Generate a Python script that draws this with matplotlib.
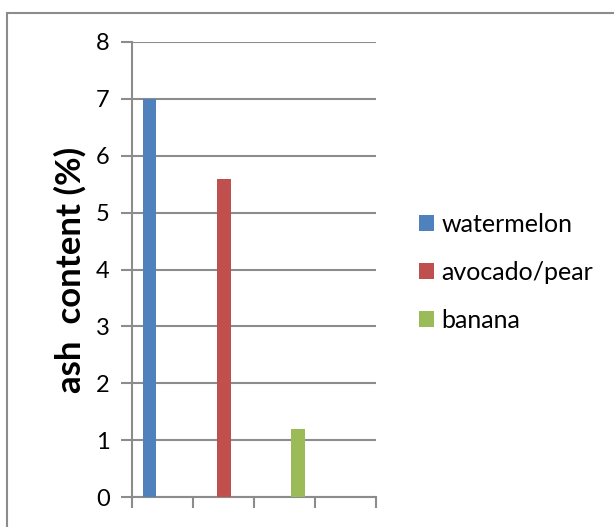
import matplotlib
matplotlib.use("Agg")
import matplotlib.pyplot as plt
from matplotlib.patches import Rectangle
import numpy as np

series_names = ["watermelon", "avocado/pear", "banana"]
watermelon = [7.0, 0, 0, 0]
avocado_pear = [0, 5.6, 0, 0]
banana = [0, 0, 1.2, 0]
colors = ["#4F81BD", "#C0504D", "#9BBB59"]
y_ticks = [0, 1, 2, 3, 4, 5, 6, 7, 8]
y_label = "ash  content (%)"

plt.rcParams['font.family'] = ['Lato', 'DejaVu Sans']

fig = plt.figure(figsize=(6.14, 5.27), dpi=100)
fig.patches.append(Rectangle((7/614, -0.1), 1.2, 1 - 13/527 + 0.1, transform=fig.transFigure,
                             fill=False, edgecolor="#8c8c8c", linewidth=1.5, zorder=0))
ax = fig.add_axes([132/614, 1 - 497/527, (376 - 132)/614, (497 - 42)/527])

n_cat = len(watermelon)
x = np.arange(n_cat) + 0.5
width = 0.225
offsets = [-0.215, 0.005, 0.225]
for vals, off, name, c in zip([watermelon, avocado_pear, banana], offsets, series_names, colors):
    ax.bar(x + off, vals, width=width, color=c, label=name, zorder=3)

ax.set_xlim(0, n_cat)
ax.set_ylim(0, 8)
ax.set_yticks(y_ticks)
ax.set_xticks(np.arange(n_cat + 1))
ax.set_xticklabels([""] * (n_cat + 1))
ax.yaxis.grid(True, color="#8c8c8c", linewidth=1.5, zorder=0)
for s in ["top", "right"]:
    ax.spines[s].set_visible(False)
for s in ["left", "bottom"]:
    ax.spines[s].set_color("#8c8c8c")
    ax.spines[s].set_linewidth(1.5)
ax.tick_params(axis="y", length=8, width=1.5, color="#8c8c8c", labelsize=17, pad=8)
ax.tick_params(axis="x", length=8, width=1.5, color="#8c8c8c")
ax.set_ylabel(y_label, fontsize=25, fontweight="bold", labelpad=7)

ax.legend(loc="center left", bbox_to_anchor=(419/614, 1 - 272/527), bbox_transform=fig.transFigure,
          frameon=False, fontsize=18, labelspacing=1.0, handlelength=0.6, handleheight=0.6,
          handletextpad=0.3, borderpad=0, borderaxespad=0)

fig.savefig("out.png", dpi=100)
